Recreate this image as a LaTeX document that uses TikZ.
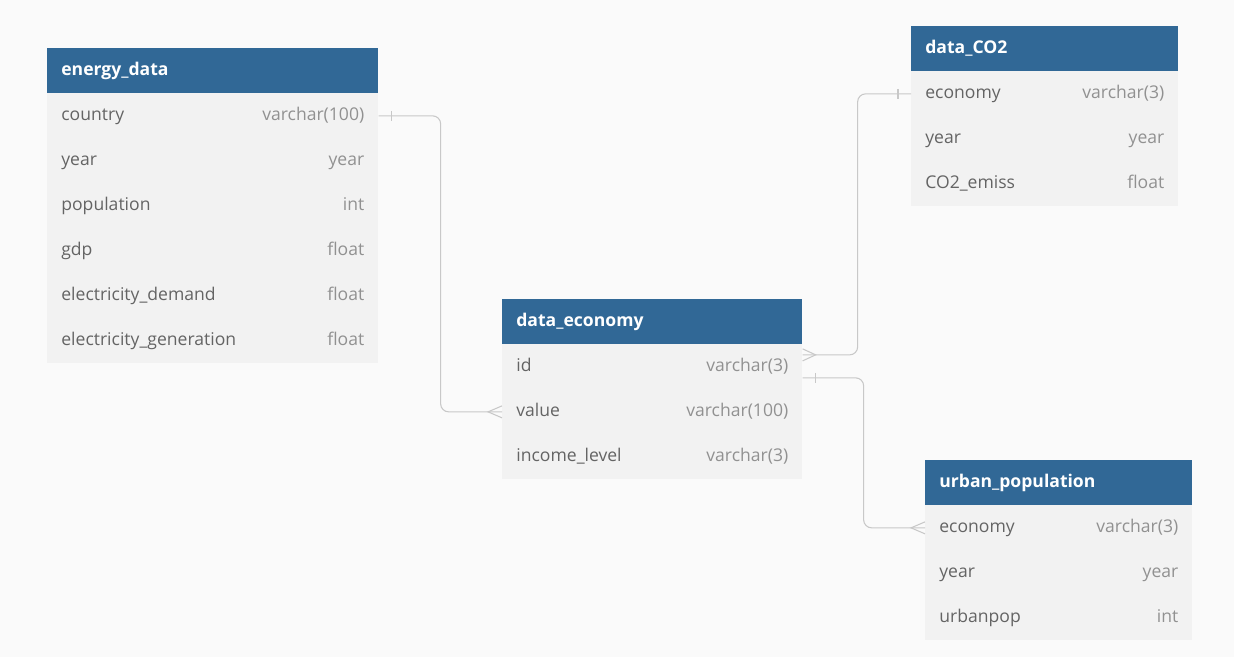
\documentclass[tikz,border=0pt]{standalone}
\usepackage{fontspec}
\setmainfont{Open Sans}
\usetikzlibrary{positioning,calc}

\definecolor{headblue}{RGB}{49,104,150}
\definecolor{rowgray}{RGB}{242,242,242}
\definecolor{pagegray}{RGB}{250,250,250}
\definecolor{fieldgray}{RGB}{100,100,100}
\definecolor{typegray}{RGB}{145,145,145}
\definecolor{linegray}{RGB}{200,200,200}

\begin{document}
\begin{tikzpicture}[
    x=0.02cm, y=-0.02cm,
    header/.style={
        rectangle,
        fill=headblue,
        text=white,
        font=\bfseries,
        text width=#1,
        inner xsep=0.28cm,
        inner ysep=0pt,
        minimum height=0.9cm,
        text height=0.75em,
        text depth=0.25em,
        anchor=north west
    },
    row/.style={
        rectangle,
        fill=rowgray,
        text=fieldgray,
        text width=#1,
        inner xsep=0.28cm,
        inner ysep=0pt,
        minimum height=0.9cm,
        text height=0.75em,
        text depth=0.25em,
        anchor=north west
    },
    rel/.style={draw=linegray, line width=0.6pt, rounded corners=0.16cm},
    tick/.style={draw=linegray, line width=0.6pt}
]

% Page
\fill[pagegray] (0,0) rectangle (1234,657);
\useasboundingbox (0,0) rectangle (1234,657);

% Table energy_data
\node [header=6.06cm] (energy) at (47,48) {energy\_data};
\foreach \f/\t [count=\i] in {country/varchar(100), year/year, population/int,
    gdp/float, electricity\_demand/float, electricity\_generation/float}
    \node [row=6.06cm] (energy-\i) at (47,{93+45*(\i-1)}) {\f\hfill\textcolor{typegray}{\t}};

% Table data_CO2
\node [header=4.78cm] (co2) at (911,26) {data\_CO2};
\foreach \f/\t [count=\i] in {economy/varchar(3), year/year, CO2\_emiss/float}
    \node [row=4.78cm] (co2-\i) at (911,{71+45*(\i-1)}) {\f\hfill\textcolor{typegray}{\t}};

% Table data_economy
\node [header=5.44cm] (economy) at (502,299) {data\_economy};
\foreach \f/\t [count=\i] in {id/varchar(3), value/varchar(100), income\_level/varchar(3)}
    \node [row=5.44cm] (economy-\i) at (502,{344+45*(\i-1)}) {\f\hfill\textcolor{typegray}{\t}};

% Table urban_population
\node [header=4.78cm] (urban) at (925,460) {urban\_population};
\foreach \f/\t [count=\i] in {economy/varchar(3), year/year, urbanpop/int}
    \node [row=4.78cm] (urban-\i) at (925,{505+45*(\i-1)}) {\f\hfill\textcolor{typegray}{\t}};

% energy_data.country -- data_economy.value
\draw [rel] (energy-1.east) -- ++(62,0) |- (economy-2.west);
\draw [tick] ([xshift=0.26cm,yshift=0.1cm]energy-1.east) -- ([xshift=0.26cm,yshift=-0.1cm]energy-1.east);
\draw [tick] ([yshift=0.12cm]economy-2.west) -- ([xshift=-0.28cm]economy-2.west) -- ([yshift=-0.12cm]economy-2.west);

% data_economy.id -- data_CO2.economy
\draw [rel] ([yshift=0.24cm]economy-1.east) -- ++(55,0) |- (co2-1.west);
\draw [tick] ([yshift=0.36cm]economy-1.east) -- ([xshift=0.26cm,yshift=0.24cm]economy-1.east) -- ([yshift=0.12cm]economy-1.east);
\draw [tick] ([xshift=-0.26cm,yshift=0.1cm]co2-1.west) -- ([xshift=-0.26cm,yshift=-0.1cm]co2-1.west);

% data_economy.id -- urban_population.economy
\draw [rel] ([yshift=-0.22cm]economy-1.east) -- ++(61,0) |- (urban-1.west);
\draw [tick] ([xshift=0.26cm,yshift=-0.12cm]economy-1.east) -- ([xshift=0.26cm,yshift=-0.32cm]economy-1.east);
\draw [tick] ([yshift=0.12cm]urban-1.west) -- ([xshift=-0.28cm]urban-1.west) -- ([yshift=-0.12cm]urban-1.west);

\end{tikzpicture}
\end{document}
